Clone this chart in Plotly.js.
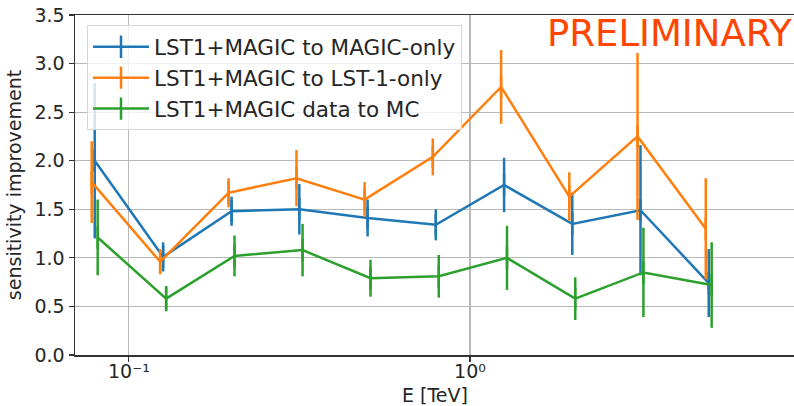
<!DOCTYPE html>
<html>
<head>
<meta charset="utf-8">
<script src="https://cdn.plot.ly/plotly-3.0.1.min.js"></script>
<style>
  html, body { margin: 0; padding: 0; background: #ffffff; }
  #chart { width: 794px; height: 406px; }
</style>
</head>
<body>
<div id="chart"></div>
<script>
// Energy bin centres [TeV], each series slightly shifted so the error bars do not overlap
const energyMagic = [0.0794, 0.126, 0.200, 0.316, 0.501, 0.794, 1.259, 1.995, 3.162, 5.012];
const energyLst   = [0.0778, 0.1235, 0.196, 0.310, 0.491, 0.778, 1.234, 1.955, 3.099, 4.912];
const energyMc    = [0.0810, 0.1286, 0.204, 0.323, 0.511, 0.810, 1.284, 2.035, 3.225, 5.112];

// Sensitivity improvement ratios and their uncertainties
const toMagic    = [2.00, 1.01, 1.48, 1.50, 1.41, 1.34, 1.75, 1.35, 1.49, 0.74];
const toMagicErr = [0.80, 0.15, 0.15, 0.26, 0.19, 0.16, 0.28, 0.32, 0.67, 0.35];
const toLst      = [1.78, 0.96, 1.67, 1.82, 1.60, 2.04, 2.76, 1.63, 2.25, 1.30];
const toLstErr   = [0.42, 0.13, 0.15, 0.29, 0.18, 0.19, 0.38, 0.25, 0.86, 0.52];
const dataToMc    = [1.21, 0.58, 1.02, 1.08, 0.79, 0.81, 1.00, 0.58, 0.85, 0.72];
const dataToMcErr = [0.39, 0.13, 0.21, 0.27, 0.19, 0.22, 0.33, 0.22, 0.46, 0.44];

const seriesNames = ['LST1+MAGIC to MAGIC-only', 'LST1+MAGIC to LST-1-only', 'LST1+MAGIC data to MC'];
const xTickVals = [0.1, 1];
const xTickText = ['10\u207B\u00B9', '10\u2070'];

const FONT = 'DejaVu Sans, sans-serif';

function series(x, y, err, name, color) {
  return {
    type: 'scatter',
    mode: 'lines+markers',
    x: x, y: y, name: name,
    line: { color: color, width: 2.5 },
    marker: { symbol: 'line-ns-open', size: 16, color: color, line: { color: color, width: 2.5 } },
    error_y: { type: 'data', array: err, visible: true, color: color, thickness: 2.5, width: 0 },
    cliponaxis: false
  };
}

const traces = [
  series(energyMagic, toMagic, toMagicErr, seriesNames[0], '#1f77b4'),
  series(energyLst, toLst, toLstErr, seriesNames[1], '#ff7f0e'),
  series(energyMc, dataToMc, dataToMcErr, seriesNames[2], '#2ca02c')
];

const layout = {
  width: 794, height: 406,
  margin: { l: 75, r: 0, t: 15, b: 51 },
  paper_bgcolor: '#ffffff', plot_bgcolor: '#ffffff',
  font: { family: FONT, color: '#262626', size: 19 },
  showlegend: true,
  legend: {
    x: 0.0167, y: 0.97, xanchor: 'left', yanchor: 'top',
    bgcolor: 'rgba(255,255,255,0.8)', bordercolor: '#d6d6d6', borderwidth: 1,
    itemwidth: 56,
    font: { family: FONT, size: 21.5, color: '#262626' }
  },
  xaxis: {
    type: 'log', range: [-1.158, 0.95],
    tickmode: 'array', tickvals: xTickVals, ticktext: xTickText,
    ticks: 'outside', ticklen: 5, tickwidth: 1.2, tickcolor: '#333',
    ticklabelstandoff: -6,
    showgrid: true, gridcolor: '#b8b8b8', gridwidth: 1.2,
    showline: true, linecolor: '#333', linewidth: 1.5, mirror: true,
    zeroline: false,
    tickfont: { family: FONT, size: 19, color: '#262626' }
  },
  yaxis: {
    range: [0, 3.5], dtick: 0.5, tickformat: '.1f',
    ticks: 'outside', ticklen: 5, tickwidth: 1.2, tickcolor: '#333',
    showgrid: true, gridcolor: '#b8b8b8', gridwidth: 1.2,
    showline: true, linecolor: '#333', linewidth: 1.5, mirror: false,
    zeroline: false,
    tickfont: { family: FONT, size: 19, color: '#262626' },
    title: { text: 'sensitivity improvement', font: { family: FONT, size: 19, color: '#262626' }, standoff: 8 }
  },
  annotations: [{
    xref: 'paper', yref: 'paper', x: 1.0, y: 0.945,
    xanchor: 'right', yanchor: 'middle', showarrow: false,
    text: 'PRELIMINARY',
    font: { family: FONT, size: 37, color: '#ff4500' }
  }, {
    // x-axis title, placed below the tick labels
    xref: 'paper', yref: 'paper', x: 0.5, y: -0.118,
    xanchor: 'center', yanchor: 'middle', showarrow: false,
    text: 'E [TeV]',
    font: { family: FONT, size: 19, color: '#262626' }
  }]
};

Plotly.newPlot('chart', traces, layout, { displayModeBar: false, staticPlot: true });
</script>
</body>
</html>
